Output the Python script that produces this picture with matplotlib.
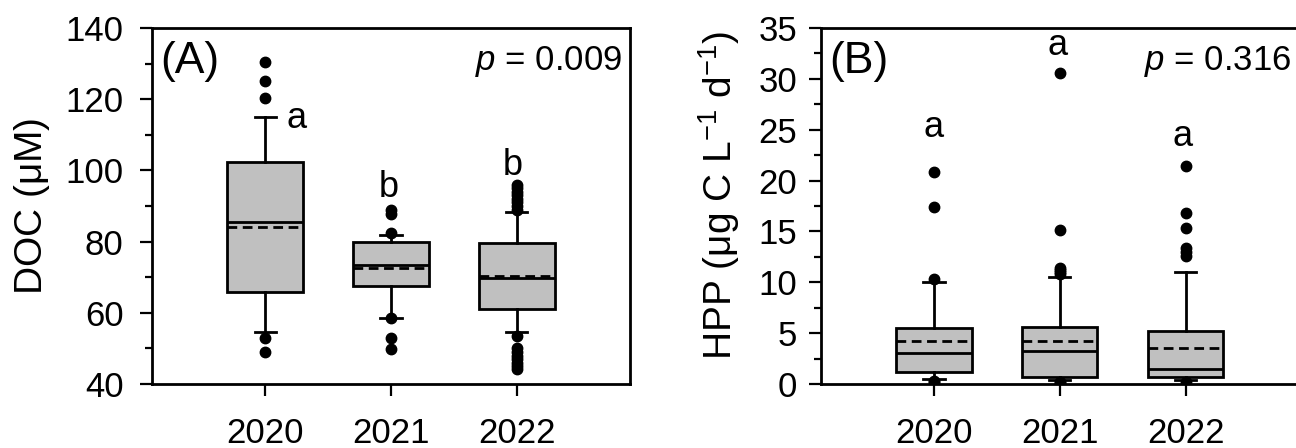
import matplotlib
matplotlib.use("Agg")
import matplotlib.pyplot as plt
from matplotlib.ticker import MultipleLocator

plt.rcParams['font.family'] = ['Liberation Sans', 'DejaVu Sans']
plt.rcParams['mathtext.fontset'] = 'custom'
plt.rcParams['mathtext.rm'] = 'Liberation Sans'
plt.rcParams['mathtext.it'] = 'Liberation Sans:italic'

years = ['2020', '2021', '2022']

# DOC (uM) box stats
doc_q1 = [65.7, 67.5, 61.1]
doc_med = [85.4, 73.4, 69.9]
doc_q3 = [102.3, 79.8, 79.5]
doc_lo = [54.6, 58.5, 54.6]
doc_hi = [115.1, 81.9, 88.2]
doc_mean = [84.0, 72.5, 70.3]
doc_fliers = [
    [130.5, 125.1, 120.2, 53.0, 49.1],
    [88.9, 87.8, 82.5, 58.5, 52.8, 49.7],
    [96.0, 95.0, 94.0, 93.0, 92.0, 91.0, 90.0, 89.0, 53.6, 50.2, 49.0, 48.0, 47.0, 46.0, 45.0, 44.2],
]
doc_letters = ['a', 'b', 'b']

# HPP (ug C L-1 d-1) box stats
hpp_q1 = [1.15, 0.72, 0.72]
hpp_med = [3.0, 3.2, 1.47]
hpp_q3 = [5.46, 5.56, 5.17]
hpp_lo = [0.5, 0.4, 0.4]
hpp_hi = [10.0, 10.56, 11.05]
hpp_mean = [4.25, 4.25, 3.53]
hpp_fliers = [
    [20.85, 17.4, 10.3, 0.3, 0.2],
    [30.6, 15.1, 11.4, 11.2, 11.0, 10.8, 0.2, 0.1],
    [21.4, 16.8, 15.3, 13.4, 13.0, 12.6, 0.2],
]
hpp_letters = ['a', 'a', 'a']


def make_stats(q1, med, q3, lo, hi, mean, fliers):
    out = []
    for i in range(len(q1)):
        out.append({'q1': q1[i], 'med': med[i], 'q3': q3[i], 'whislo': lo[i],
                    'whishi': hi[i], 'mean': mean[i], 'fliers': fliers[i]})
    return out


def draw_panel(ax, stats, ylim, major, minor, ylabel, tag, ptext, letters, letter_x, letter_y, ypad):
    lw = 2.0
    ax.bxp(stats, positions=[1, 2, 3], widths=0.6, capwidths=0.17,
           showmeans=True, meanline=True, patch_artist=True,
           boxprops=dict(facecolor='#c0c0c0', edgecolor='black', linewidth=lw),
           medianprops=dict(color='black', linewidth=lw),
           meanprops=dict(color='black', linewidth=lw, linestyle=(0, (3.5, 2))),
           whiskerprops=dict(color='black', linewidth=lw),
           capprops=dict(color='black', linewidth=lw),
           flierprops=dict(marker='o', markerfacecolor='black', markeredgecolor='black',
                           markersize=7.5))
    ax.set_xlim(0.1, 3.9)
    ax.set_ylim(*ylim)
    ax.yaxis.set_major_locator(MultipleLocator(major))
    ax.yaxis.set_minor_locator(MultipleLocator(minor))
    ax.set_xticks([1, 2, 3])
    ax.set_xticklabels(years)
    ax.tick_params(axis='both', which='major', direction='out', length=8.5, width=1.6,
                   labelsize=25)
    ax.tick_params(axis='y', which='major', pad=ypad)
    ax.tick_params(axis='x', which='major', pad=15)
    ax.tick_params(axis='y', which='minor', direction='out', length=5, width=1.6)
    ax.tick_params(axis='x', which='minor', bottom=False)
    for s in ax.spines.values():
        s.set_linewidth(2.0)
    ax.set_ylabel(ylabel, fontsize=28)
    ax.text(0.018, 0.905, tag, transform=ax.transAxes, fontsize=32, ha='left', va='center')
    ax.text(0.984, 0.905, ptext, transform=ax.transAxes, fontsize=25, ha='right', va='center')
    for x, t, y in zip(letter_x, letters, letter_y):
        ax.text(x, y, t, fontsize=26, ha='center', va='baseline')


fig = plt.figure(figsize=(12.96, 4.48), dpi=100)
axA = fig.add_axes([0.1173, 0.1429, 0.3688, 0.7946])
axB = fig.add_axes([0.6333, 0.1429, 0.3688, 0.7946])

draw_panel(axA, make_stats(doc_q1, doc_med, doc_q3, doc_lo, doc_hi, doc_mean, doc_fliers),
           (40, 140), 20, 10, r'DOC ($\mathrm{\mu}$M)', '(A)', r'$p$ = 0.009',
           doc_letters, [1.25, 1.98, 2.97], [111.9, 92.5, 98.7], 12)
axA.yaxis.set_label_coords(-0.21, 0.5)

draw_panel(axB, make_stats(hpp_q1, hpp_med, hpp_q3, hpp_lo, hpp_hi, hpp_mean, hpp_fliers),
           (0, 35), 5, 2.5, r'HPP ($\mathrm{\mu}$g C L$^{-1}$ d$^{-1}$)', '(B)', r'$p$ = 0.316',
           hpp_letters, [1.0, 1.98, 2.98], [24.3, 32.35, 23.4], 8.5)
axB.yaxis.set_label_coords(-0.165, 0.53)

fig.savefig('out.png', dpi=100)
